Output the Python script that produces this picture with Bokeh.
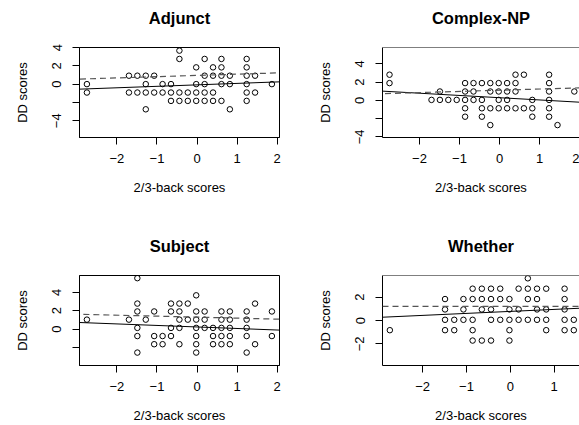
import math
from bokeh.plotting import figure
from bokeh.layouts import column, row
from bokeh.models import FixedTicker, Slope, Span, Range1d
from bokeh.embed import file_html
from bokeh.resources import INLINE

FONT = "Liberation Sans"

titles = ["Adjunct", "Complex-NP", "Subject", "Whether"]
x_label = "2/3-back scores"
y_label = "DD scores"
x_ticks = [-2, -1, 0, 1, 2]

# ---- data: y level of each row and x values in that row ----
adjunct_levels = [3.66, 2.75, 1.83, 0.92, 0.0, -0.92, -1.83, -2.75]
adjunct_rows = [
    [-0.44],
    [-0.44, 0.19, 0.61, 1.24],
    [-0.02, 0.40, 0.61, 1.24],
    [-1.70, -1.49, -1.28, -1.07, 0.19, 0.40, 0.61, 0.82, 1.24, 1.45],
    [-2.75, -1.28, -0.86, -0.65, -0.02, 0.19, 0.61, 0.82, 1.24, 1.87],
    [-2.75, -1.70, -1.49, -1.28, -1.07, -0.86, -0.65, -0.44, -0.23, -0.02, 0.19, 0.40, 1.24, 1.45],
    [-0.65, -0.44, -0.23, -0.02, 0.19, 0.40, 0.61, 1.24],
    [-1.28, 0.82],
]

complex_levels = [2.82, 1.90, 0.98, 0.06, -0.86, -1.78, -2.70]
complex_rows = [
    [-2.75, 0.40, 0.61, 1.24],
    [-2.75, -0.86, -0.65, -0.44, -0.23, -0.02, 0.19, 0.40, 1.24],
    [-1.49, -0.86, -0.65, -0.23, -0.02, 0.19, 0.40, 1.24, 1.87],
    [-1.70, -1.49, -1.28, -1.07, -0.86, -0.65, -0.44, -0.02, 0.19, 0.82, 1.24],
    [-0.86, -0.44, -0.23, -0.02, 0.19, 0.40, 0.61, 0.82, 1.24],
    [-0.86, -0.44, 0.82, 1.24],
    [-0.23, 1.45],
]

subject_levels = [5.55, 3.68, 2.78, 1.92, 1.03, 0.13, -0.76, -1.65, -2.56]
subject_rows = [
    [-1.49],
    [-0.02],
    [-1.49, -0.65, -0.44, -0.23, 1.45],
    [-1.49, -1.07, -0.65, -0.44, -0.02, 0.19, 0.61, 0.82, 1.24, 1.87],
    [-2.75, -1.70, -1.28, -0.44, -0.23, -0.02, 0.19, 0.61, 0.82, 1.24],
    [-1.49, -0.65, -0.44, -0.02, 0.19, 0.40, 0.61, 0.82, 1.24],
    [-1.49, -1.07, -0.86, -0.65, -0.02, 0.40, 0.61, 0.82, 1.24, 1.87],
    [-1.07, -0.86, -0.44, -0.02, 0.40, 0.61, 0.82, 1.45],
    [-1.49, -0.02, 1.24],
]

whether_levels = [3.62, 2.73, 1.84, 0.95, 0.06, -0.83, -1.72]
whether_rows = [
    [0.40],
    [-0.86, -0.65, -0.44, -0.23, 0.19, 0.40, 0.61, 0.82, 1.24],
    [-1.49, -1.07, -0.86, -0.65, -0.44, -0.23, -0.02, 0.40, 0.61, 1.24],
    [-1.49, -1.07, -0.65, -0.44, -0.02, 0.19, 0.61, 0.82, 1.24],
    [-1.49, -1.28, -1.07, -0.86, -0.44, -0.23, -0.02, 0.19, 0.40, 0.61, 0.82, 1.24, 1.45],
    [-2.75, -1.49, -1.28, -0.86, -0.02, 0.82, 1.24, 1.45],
    [-0.86, -0.65, -0.44, -0.02],
]

# fitted lines (intercept, slope)
solid_intercept = [-0.08, 0.30, 0.23, 0.78]
solid_slope = [0.16, -0.246, -0.166, 0.171]
dashed_intercept = [0.95, 1.12, 1.30, 1.22]
dashed_slope = [0.136, 0.13, -0.108, 0.0]

# axis extents
x_ranges = [(-2.935, 2.06), (-2.925, 2.0), (-2.935, 2.06), (-2.918, 1.58)]
y_ranges = [(-5.83, 4.0), (-4.06, 5.8), (-3.97, 5.84), (-3.86, 3.86)]
y_ticks = [[-4, -2, 0, 2, 4], [-4, -2, 0, 2, 4], [-4, -2, 0, 2, 4], [-2, 0, 2]]
y_hidden = [{-2: ""}, {-2: ""}, {-2: ""}, {}]


def flatten(levels, rows):
    xs, ys = [], []
    for lv, r in zip(levels, rows):
        for xv in r:
            xs.append(xv)
            ys.append(lv)
    return xs, ys


panel_data = [
    flatten(adjunct_levels, adjunct_rows),
    flatten(complex_levels, complex_rows),
    flatten(subject_levels, subject_rows),
    flatten(whether_levels, whether_rows),
]


def make_panel(i, width, height, mbl, mbr, mbt, mbb, cut_right, xlab_standoff):
    xs, ys = panel_data[i]
    p = figure(width=width, height=height, output_backend="svg", toolbar_location=None,
               x_range=Range1d(*x_ranges[i]), y_range=Range1d(*y_ranges[i]),
               min_border_left=mbl, min_border_right=mbr,
               min_border_top=mbt, min_border_bottom=mbb,
               title=titles[i])
    p.background_fill_color = "white"
    p.border_fill_color = "white"
    p.xgrid.visible = False
    p.ygrid.visible = False
    if cut_right:
        p.outline_line_color = None
        p.add_layout(Span(location=y_ranges[i][1], dimension="width",
                          line_color="black", line_width=1))
    else:
        p.outline_line_color = "black"
        p.outline_line_alpha = 1.0
        p.outline_line_width = 1

    p.title.align = "center"
    p.title.text_font = FONT
    p.title.text_font_size = "16.5px"
    p.title.text_font_style = "bold"
    p.title.text_color = "black"
    p.title.standoff = 10
    try:
        p.title.padding = dict(left=0, right=0, top=0, bottom=16)
    except Exception:
        pass

    p.xaxis.ticker = FixedTicker(ticks=x_ticks)
    p.yaxis.ticker = FixedTicker(ticks=y_ticks[i])
    if y_hidden[i]:
        p.yaxis.major_label_overrides = y_hidden[i]
    p.xaxis.axis_label = x_label
    p.yaxis.axis_label = y_label
    for ax in (p.xaxis, p.yaxis):
        ax.axis_line_color = "black"
        ax.major_tick_line_color = "black"
        ax.major_tick_out = 7
        ax.major_tick_in = 0
        ax.minor_tick_line_color = None
        ax.major_label_text_font = FONT
        ax.major_label_text_font_size = "13px"
        ax.major_label_text_color = "black"
        ax.axis_label_text_font = FONT
        ax.axis_label_text_font_size = "13px"
        ax.axis_label_text_font_style = "normal"
        ax.axis_label_text_color = "black"
    p.yaxis.major_label_orientation = "vertical"
    p.yaxis.major_label_standoff = 11
    p.yaxis.axis_label_standoff = 20
    p.xaxis.major_label_standoff = 9
    p.xaxis.axis_label_standoff = xlab_standoff

    p.add_layout(Slope(gradient=solid_slope[i], y_intercept=solid_intercept[i],
                       line_color="black", line_width=1))
    p.add_layout(Slope(gradient=dashed_slope[i], y_intercept=dashed_intercept[i],
                       line_color="#555555", line_width=1.2, line_dash="6 4"))
    p.scatter(xs, ys, marker="circle", size=5.5, fill_color=None,
              line_color="black", line_width=1)
    return p


p1 = make_panel(0, 290, 228, 79, 11, 47, 91, False, 14)
p2 = make_panel(1, 289, 228, 92, 0, 47, 91, True, 14)
p3 = make_panel(2, 290, 197, 79, 11, 47, 60, False, 14)
p4 = make_panel(3, 289, 197, 92, 0, 47, 60, True, 14)

layout = column(row(p1, p2), row(p3, p4))
open("out.html", "w").write(file_html(layout, INLINE))
